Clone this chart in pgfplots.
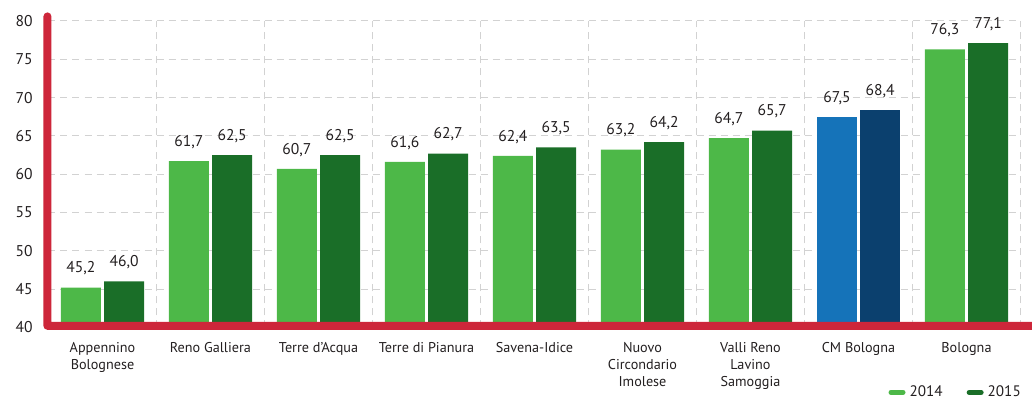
\documentclass[border=0pt]{standalone}
\usepackage{fontspec}
\setmainfont{PT Sans}
\usepackage{pgfplots}
\pgfplotsset{compat=1.18}
\definecolor{lgreen}{RGB}{77,184,72}
\definecolor{dgreen}{RGB}{26,110,40}
\definecolor{lblue}{RGB}{21,115,185}
\definecolor{dblue}{RGB}{11,64,110}
\definecolor{axred}{RGB}{205,38,58}
\definecolor{txt}{RGB}{35,31,32}
\definecolor{gridc}{RGB}{210,210,210}

\begin{document}
\begin{tikzpicture}
\path[use as bounding box] (-24.25pt,-36.8pt) rectangle (491.75pt,163.7pt);
\begin{axis}[
    scale only axis,
    width=486pt, height=153.2pt,
    xmin=-0.5, xmax=8.5,
    ymin=40, ymax=80,
    clip=false,
    axis line style={draw=none},
    tick style={draw=none},
    ytick={40,45,...,80},
    xtick={0,...,8},
    minor xtick={0.5,1.5,...,8.5},
    xticklabels={Appennino\\Bolognese, Reno Galliera, Terre d’Acqua, Terre di Pianura, Savena-Idice, Nuovo\\Circondario\\Imolese, Valli Reno\\Lavino\\Samoggia, CM Bologna, Bologna},
    xticklabel style={align=center, font=\fontsize{7.1}{8.5}\selectfont, text=txt, inner sep=0pt, yshift=-3pt},
    yticklabel style={font=\fontsize{7.8}{9}\selectfont, text=txt, inner sep=0pt, xshift=-7.7pt},
    /pgf/number format/assume math mode=true,
    ymajorgrids=true, xminorgrids=true,
    major grid style={gridc, line width=0.5pt, dash pattern=on 3.5pt off 2.5pt},
    minor grid style={gridc, line width=0.5pt, dash pattern=on 3.5pt off 2.5pt},
    ybar, bar width=0.37,
    nodes near coords={\pgfmathprintnumber[fixed,fixed zerofill,precision=1,use comma]{\pgfplotspointmeta}},
    every node near coord/.append style={font=\fontsize{7.8}{9}\selectfont, text=txt, anchor=south, inner sep=0pt, yshift=6pt},
    legend columns=2,
    legend style={draw=none, fill=none, at={(rel axis cs:1.011,-0.212)}, anchor=east,
        font=\fontsize{7.6}{9}\selectfont, text=txt,
        /tikz/every even column/.append style={column sep=10pt}},
]
\addplot[fill=lgreen, draw=none, bar shift=-0.2,
    legend image code/.code={\draw[lgreen, line width=2.5pt, line cap=round] (1.25pt,0pt) -- (7.25pt,0pt);}]
    coordinates {(0,45.2) (1,61.7) (2,60.7) (3,61.6) (4,62.4) (5,63.2) (6,64.7) (8,76.3)};
\addlegendentry{2014}
\addplot[fill=dgreen, draw=none, bar shift=0.2,
    legend image code/.code={\draw[dgreen, line width=2.5pt, line cap=round] (1.25pt,0pt) -- (7.25pt,0pt);}]
    coordinates {(0,46.0) (1,62.5) (2,62.5) (3,62.7) (4,63.5) (5,64.2) (6,65.7) (8,77.1)};
\addlegendentry{2015}
\addplot[fill=lblue, draw=none, bar shift=-0.2, forget plot]
    coordinates {(7,67.5)};
\addplot[fill=dblue, draw=none, bar shift=0.2, forget plot]
    coordinates {(7,68.4)};
\draw[axred, line width=4pt, line cap=round, line join=round]
    (axis cs:-0.51,80.6) -- (axis cs:-0.51,40.2) -- (rel axis cs:1.05,0.005);
\end{axis}
\end{tikzpicture}
\end{document}
